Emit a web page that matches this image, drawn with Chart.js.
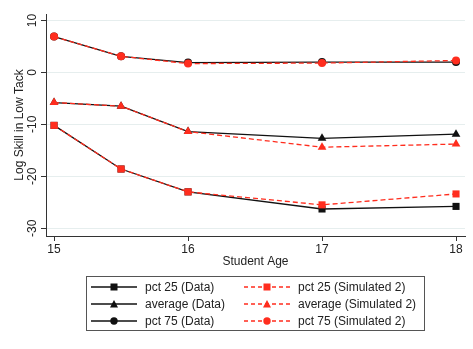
<!DOCTYPE html>
<html>
<head>
<meta charset="utf-8">
<script src="https://cdn.jsdelivr.net/npm/chart.js@4.4.1/dist/chart.umd.min.js"></script>
<style>
  html, body { margin: 0; padding: 0; background: #fff; }
  #wrap { position: relative; width: 473px; height: 349px; }
  #legend {
    position: absolute; left: 86px; top: 276px; width: 337px; height: 53px;
    border: 1px solid #555; box-sizing: content-box;
    font: 12px "Liberation Sans", Arial, sans-serif; color: #222;
    display: grid; grid-template-columns: 153px 1fr; grid-auto-rows: 16.7px;
    padding: 2px 0 0 4px; box-sizing: border-box; width: 339px; height: 55px;
  }
  .item { display: flex; align-items: center; white-space: nowrap; }
  .item svg { margin-right: 8px; }
</style>
</head>
<body>
<div id="wrap">
  <canvas id="chart" width="473" height="349"></canvas>
  <div id="legend"></div>
</div>
<script>
const ages = [15, 15.5, 16, 17, 18];
const xTicks = [15, 16, 17, 18];
const yTicks = [-30, -20, -10, 0, 10];

const p25Data = [-10.2, -18.6, -23.0, -26.3, -25.8];
const avgData = [-5.8, -6.5, -11.4, -12.7, -11.9];
const p75Data = [6.9, 3.1, 1.9, 2.0, 2.0];
const p25Sim = [-10.2, -18.6, -23.0, -25.5, -23.4];
const avgSim = [-5.8, -6.5, -11.4, -14.4, -13.8];
const p75Sim = [6.9, 3.1, 1.7, 1.8, 2.3];

const BLACK = '#111';
const RED = '#ff2d1e';

function series(label, values, color, dashed, style, radius) {
    return {
        label: label,
        data: values.map((v, i) => ({x: ages[i], y: v})),
        borderColor: color,
        backgroundColor: color,
        borderWidth: 1.3,
        borderDash: dashed ? [5, 3] : [],
        pointStyle: style,
        pointRadius: radius,
        pointBorderWidth: 0,
        pointHoverRadius: radius,
        tension: 0,
        order: dashed ? 0 : 1
    };
}

const datasets = [
    series('pct 25 (Data)', p25Data, BLACK, false, 'rect', 5),
    series('average (Data)', avgData, BLACK, false, 'triangle', 5),
    series('pct 75 (Data)', p75Data, BLACK, false, 'circle', 4),
    series('pct 25 (Simulated 2)', p25Sim, RED, true, 'rect', 5),
    series('average (Simulated 2)', avgSim, RED, true, 'triangle', 5),
    series('pct 75 (Simulated 2)', p75Sim, RED, true, 'circle', 4)
];

const font = {family: '"Liberation Sans", Arial, sans-serif', size: 12};

new Chart(document.querySelector('#chart'), {
    type: 'line',
    data: {datasets: datasets},
    options: {
        responsive: false,
        animation: false,
        layout: {padding: {top: 14, right: 8, left: 0, bottom: 80}},
        plugins: {legend: {display: false}, tooltip: {enabled: false}},
        scales: {
            x: {
                type: 'linear',
                min: 14.94,
                max: 18.067,
                afterBuildTicks: s => { s.ticks = xTicks.map(v => ({value: v})); },
                afterFit: s => { s.height = 33; },
                grid: {drawOnChartArea: false, tickLength: 5, tickColor: '#333'},
                border: {color: '#333', width: 1},
                ticks: {font: font, color: '#222', padding: 1, maxRotation: 0},
                title: {display: true, text: 'Student Age', font: font, color: '#222', padding: {top: 2, bottom: 0}}
            },
            y: {
                min: -31.5,
                max: 11.25,
                afterBuildTicks: s => { s.ticks = yTicks.map(v => ({value: v})); },
                afterFit: s => { s.width = 46; },
                grid: {color: '#e6eeee', tickLength: 5, tickColor: '#333'},
                border: {color: '#333', width: 1},
                ticks: {font: font, color: '#222', padding: 0, minRotation: 90, maxRotation: 90, crossAlign: 'center'},
                title: {display: true, text: 'Log Skill in Low Tack', font: font, color: '#222', padding: {top: 12, bottom: 0}}
            }
        }
    }
});

// legend: data column on the left, simulated on the right
function swatch(ds) {
    const c = ds.borderColor;
    const dash = ds.borderDash.length ? ' stroke-dasharray="4 3"' : '';
    let mark;
    if (ds.pointStyle === 'rect') mark = `<rect x="19.5" y="2.5" width="7" height="7" fill="${c}"/>`;
    else if (ds.pointStyle === 'triangle') mark = `<polygon points="23,2 27,9.5 19,9.5" fill="${c}"/>`;
    else mark = `<circle cx="23" cy="6" r="3.7" fill="${c}"/>`;
    return `<svg width="46" height="12"><line x1="0" y1="6" x2="46" y2="6" stroke="${c}" stroke-width="1.3"${dash}/>${mark}</svg>`;
}
const legend = document.querySelector('#legend');
for (let row = 0; row < 3; row++) {
    [datasets[row], datasets[row + 3]].forEach(ds => {
        const div = document.createElement('div');
        div.className = 'item';
        div.innerHTML = swatch(ds) + '<span>' + ds.label + '</span>';
        legend.appendChild(div);
    });
}
</script>
</body>
</html>
